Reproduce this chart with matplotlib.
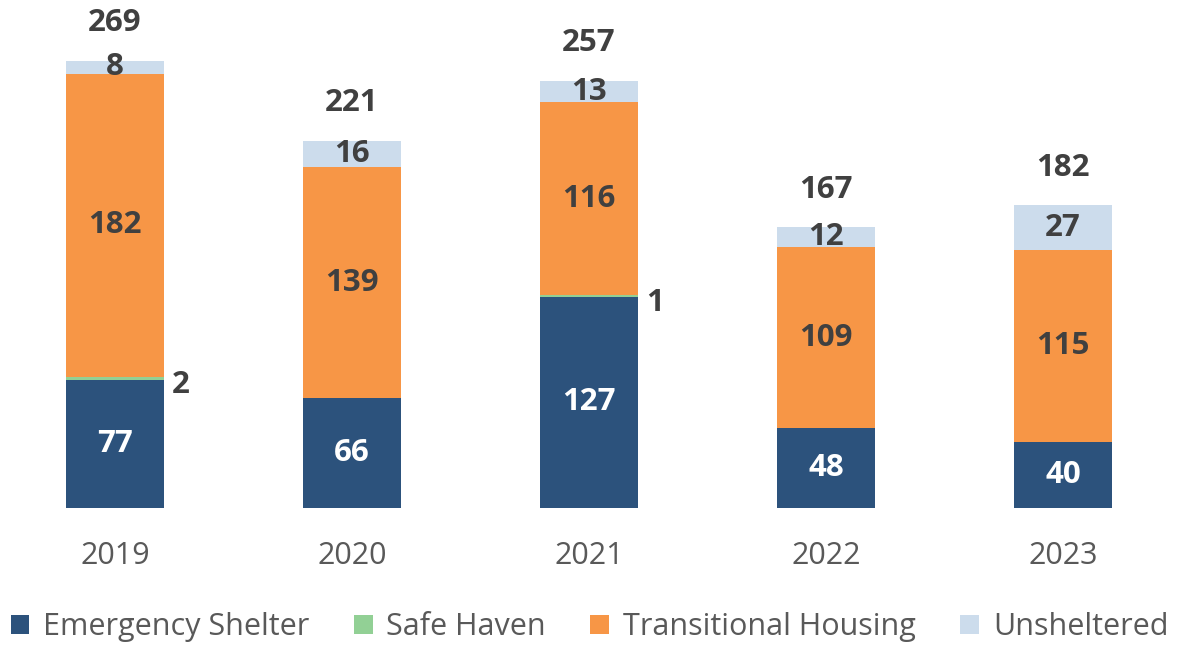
import matplotlib
matplotlib.use("Agg")
import matplotlib.pyplot as plt
from matplotlib.patches import Patch

# data
years = ["2019", "2020", "2021", "2022", "2023"]
emergency = [77, 66, 127, 48, 40]
safe_haven = [2, 0, 1, 0, 0]
transitional = [182, 139, 116, 109, 115]
unsheltered = [8, 16, 13, 12, 27]
totals = [269, 221, 257, 167, 182]

series_names = ["Emergency Shelter", "Safe Haven", "Transitional Housing", "Unsheltered"]
colors = ["#2C527C", "#92D095", "#F79646", "#CCDCEC"]

plt.rcParams["font.family"] = ["Open Sans", "DejaVu Sans"]

fig = plt.figure(figsize=(11.79, 6.48), dpi=100)
ax = fig.add_axes([0, 0.216, 1, 0.784])

x = list(range(len(years)))
width = 0.41
series = [emergency, safe_haven, transitional, unsheltered]
bottoms = [0] * len(years)
label_dark = "#404040"
lbl_size = 22.5

for vals, color, name in zip(series, colors, series_names):
    ax.bar(x, vals, width, bottom=bottoms, color=color, label=name,
           edgecolor="none")
    for i, v in enumerate(vals):
        if v == 0:
            continue
        mid = bottoms[i] + v / 2
        if name == "Safe Haven":
            ax.annotate(str(v), (x[i] + width / 2, mid), xytext=(6, -5),
                        textcoords="offset points", ha="left", va="center",
                        fontsize=lbl_size, fontweight="bold", color=label_dark)
        else:
            tc = "white" if name == "Emergency Shelter" else label_dark
            ax.text(x[i], mid, str(v), ha="center", va="center",
                    fontsize=lbl_size, fontweight="bold", color=tc)
    bottoms = [b + v for b, v in zip(bottoms, vals)]

# totals above each stack
for i, total in enumerate(totals):
    ax.annotate(str(total), (x[i], bottoms[i]), xytext=(0, 27),
                textcoords="offset points", ha="center", va="center",
                fontsize=lbl_size, fontweight="bold", color=label_dark)

ax.set_xlim(-0.485, 4.489)
ax.set_ylim(0, 305.6)
ax.set_xticks(x)
ax.set_xticklabels(years, fontsize=22, color="#595959")
ax.tick_params(axis="x", length=0, pad=24)
ax.set_yticks([])
for s in ax.spines.values():
    s.set_visible(False)

handles = [Patch(facecolor=c, edgecolor="none") for c in colors]
fig.legend(handles, series_names, loc="center", bbox_to_anchor=(0.5, 0.032),
           ncol=4, frameon=False, fontsize=22, labelcolor="#595959",
           handlelength=0.62, handleheight=0.62, handletextpad=0.45,
           columnspacing=1.45)

fig.savefig("out.png", dpi=100, facecolor="white")
